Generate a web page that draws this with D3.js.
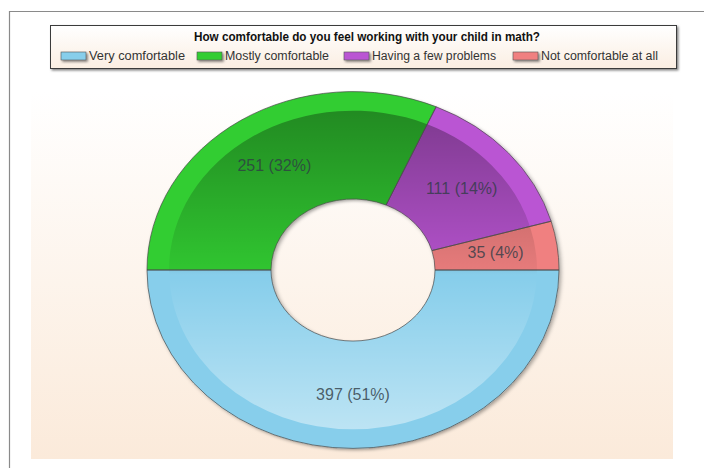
<!DOCTYPE html>
<html><head><meta charset="utf-8">
<script src="https://cdn.jsdelivr.net/npm/d3@7"></script>
<style>html,body{margin:0;padding:0;background:#fff;}svg{display:block;}</style>
</head><body>
<svg id="chart" width="704" height="468"></svg>
<script>
const title = "How comfortable do you feel working with your child in math?";
const categories = ["Very comfortable", "Mostly comfortable", "Having a few problems", "Not comfortable at all"];
const values = [397, 251, 111, 35];
const percentLabels = [51, 32, 14, 4];
const colors = ["#87CEEB", "#32CD32", "#BA55D3", "#F08080"];

const svg = d3.select("#chart");
const defs = svg.append("defs");

// gradients
const bgGrad = defs.append("linearGradient").attr("id","bgGrad").attr("x1",0).attr("y1",0).attr("x2",0).attr("y2",1);
bgGrad.append("stop").attr("offset","0%").attr("stop-color","#FFFFFF");
bgGrad.append("stop").attr("offset","100%").attr("stop-color","#FBEADA");
const lgGrad = defs.append("linearGradient").attr("id","lgGrad").attr("x1",0).attr("y1",0).attr("x2",0).attr("y2",1);
lgGrad.append("stop").attr("offset","0%").attr("stop-color","#FFFFFF");
lgGrad.append("stop").attr("offset","100%").attr("stop-color","#FBEEE2");

const R = 206, r0 = 82, rIn = 184, sy = 0.866;
const cx = 353, cy = 270;

const shade = defs.append("linearGradient").attr("id","shade")
  .attr("gradientUnits","userSpaceOnUse").attr("x1",0).attr("y1",-R).attr("x2",0).attr("y2",R);
shade.append("stop").attr("offset","0%").attr("stop-color","#000").attr("stop-opacity",0.36);
shade.append("stop").attr("offset","50%").attr("stop-color","#000").attr("stop-opacity",0.04);
shade.append("stop").attr("offset","52%").attr("stop-color","#fff").attr("stop-opacity",0.0);
shade.append("stop").attr("offset","100%").attr("stop-color","#fff").attr("stop-opacity",0.5);

const ds = defs.append("filter").attr("id","ds").attr("x","-20%").attr("y","-20%").attr("width","140%").attr("height","140%");
ds.append("feDropShadow").attr("dx",2).attr("dy",2).attr("stdDeviation",2).attr("flood-color","#000").attr("flood-opacity",0.35);
const ds2 = defs.append("filter").attr("id","ds2").attr("x","-10%").attr("y","-10%").attr("width","130%").attr("height","150%");
ds2.append("feDropShadow").attr("dx",1.5).attr("dy",1.5).attr("stdDeviation",0.8).attr("flood-color","#000").attr("flood-opacity",0.5);

// outer frame
svg.append("path").attr("d","M9.5,704 L9.5,11.5 L704,11.5").attr("fill","none").attr("stroke","#8a8a8a").attr("stroke-width",1.2);

// plot background
svg.append("rect").attr("x",31).attr("y",92).attr("width",642).attr("height",367).attr("fill","url(#bgGrad)");

// legend box
svg.append("rect").attr("x",50.5).attr("y",25.5).attr("width",626).attr("height",43)
  .attr("fill","url(#lgGrad)").attr("stroke","#3a3a3a").attr("stroke-width",1).attr("filter","url(#ds2)");
svg.append("text").attr("x",367).attr("y",41).attr("text-anchor","middle")
  .attr("font-family","Liberation Sans, Arial, sans-serif").attr("font-weight","bold").attr("font-size",12)
  .attr("fill","#111").attr("textLength",346).attr("lengthAdjust","spacingAndGlyphs").text(title);

const swatchX = [61, 197, 344, 513];
const textW = [96, 104, 124, 117];
const lg = svg.append("g");
categories.forEach((c,i)=>{
  lg.append("rect").attr("x",swatchX[i]).attr("y",52).attr("width",25).attr("height",8)
    .attr("fill",colors[i]).attr("stroke","#555").attr("stroke-width",0.6).attr("filter","url(#ds2)");
  lg.append("text").attr("x",swatchX[i]+28).attr("y",60)
    .attr("font-family","Liberation Sans, Arial, sans-serif").attr("font-size",12).attr("fill","#333")
    .attr("textLength",textW[i]).attr("lengthAdjust","spacingAndGlyphs").text(c);
});

// donut
const pie = d3.pie().sort(null).value(d=>d).startAngle(Math.PI/2).endAngle(Math.PI/2 + 2*Math.PI);
const arcs = pie(values);
const arcOuter = d3.arc().innerRadius(r0).outerRadius(R);
const arcShade = d3.arc().innerRadius(r0).outerRadius(rIn);

const g = svg.append("g").attr("transform",`translate(${cx},${cy}) scale(1,${sy})`);
const base = g.append("g").attr("filter","url(#ds)");
base.selectAll("path.base").data(arcs).join("path").attr("class","base")
  .attr("d",arcOuter).attr("fill",(d,i)=>colors[i]);
g.selectAll("path.shade").data(arcs).join("path").attr("class","shade")
  .attr("d",arcShade).attr("fill","url(#shade)");
g.selectAll("path.edge").data(arcs).join("path").attr("class","edge")
  .attr("d",arcOuter).attr("fill","none").attr("stroke","#4a4a4a").attr("stroke-width",1).attr("stroke-opacity",0.7)
  .attr("vector-effect","non-scaling-stroke");

// labels at centroids
svg.append("g").selectAll("text").data(arcs).join("text")
  .attr("x",d=>cx + arcOuter.centroid(d)[0])
  .attr("y",d=>cy + arcOuter.centroid(d)[1]*sy)
  .attr("dy","0.35em").attr("text-anchor","middle")
  .attr("font-family","Liberation Sans, Arial, sans-serif").attr("font-size",16)
  .attr("fill","#2f3b45").attr("fill-opacity",0.8)
  .text((d,i)=>`${values[i]} (${percentLabels[i]}%)`);
</script>
</body></html>
